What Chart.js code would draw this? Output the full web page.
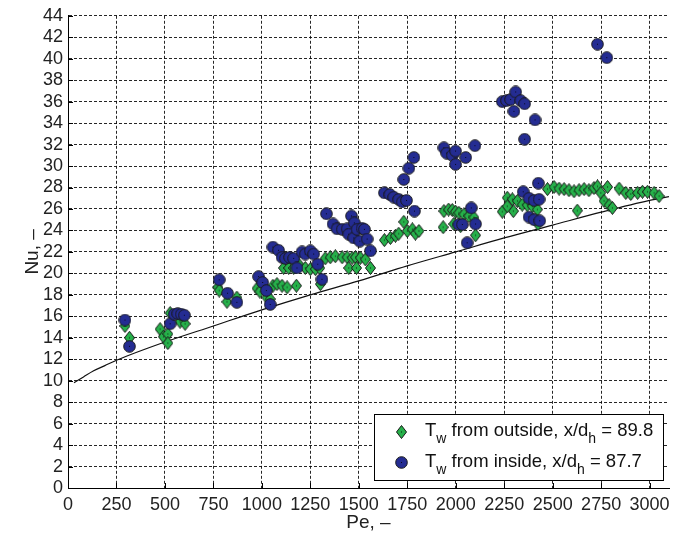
<!DOCTYPE html>
<html>
<head>
<meta charset="utf-8">
<title>Nu vs Pe</title>
<script src="https://cdn.jsdelivr.net/npm/chart.js@4.4.1/dist/chart.umd.min.js"></script>
<style>
  html, body { margin: 0; padding: 0; background: #fff; }
  canvas { display: block; }
</style>
</head>
<body>
<canvas id="nu-chart" width="686" height="534"></canvas>
<script>
// Tw from outside, x/dh = 89.8
const outsidePe = [294, 317, 475, 492, 515, 515, 527, 578, 604, 773, 780, 820, 871, 975, 990, 1026, 1043,
  1057, 1078, 1104, 1130, 1178, 1112, 1138, 1164, 1190, 1224, 1250, 1276, 1298, 1302,
  1327, 1353, 1379, 1414, 1440, 1466, 1483, 1508, 1534, 1448, 1488, 1560,
  1632, 1663, 1689, 1706, 1732, 1750, 1776, 1792, 1810,
  1935, 1939, 1963, 1982, 1999, 2016, 2042, 2068, 2094, 1990, 2025, 2102,
  2240, 2266, 2292, 2318, 2343, 2369, 2395, 2421, 2297, 2266, 2424,
  2473, 2507, 2533, 2559, 2584, 2610, 2636, 2662, 2687, 2713, 2731, 2748, 2783,
  2843, 2877, 2903, 2938, 2963, 2989, 3023, 3049, 2627, 2765, 2791, 2808];
const outsideNu = [15.1, 14.0, 14.8, 14.1, 14.35, 13.5, 16.3, 15.5, 15.3, 18.7, 18.4, 17.35, 17.75, 18.6, 18.3, 17.75, 17.6,
  18.85, 19.0, 18.85, 18.7, 18.85, 20.5, 20.5, 20.5, 20.85, 20.5, 20.4, 20.4, 20.5, 19.0,
  21.4, 21.5, 21.6, 21.5, 21.5, 21.45, 21.5, 21.45, 21.3, 20.5, 20.5, 20.5,
  23.1, 23.3, 23.5, 23.7, 24.8, 23.95, 24.1, 23.7, 23.95,
  24.3, 25.8, 25.95, 25.9, 25.75, 25.65, 25.5, 25.35, 25.2, 24.6, 24.4, 23.55,
  25.75, 27.05, 26.9, 26.75, 26.4, 26.35, 26.25, 25.95, 25.8, 26.25, 24.6,
  27.85, 28.05, 27.9, 27.85, 27.75, 27.65, 27.75, 27.85, 27.75, 27.95, 28.1, 27.5, 28.05,
  27.9, 27.5, 27.4, 27.5, 27.6, 27.6, 27.5, 27.2, 25.85, 26.75, 26.35, 26.1];

// Tw from inside, x/dh = 87.7
const insidePe = [294, 317, 527, 548, 566, 584, 600, 780, 823, 871, 983, 1004, 1023, 1043,
  1057, 1086, 1104, 1121, 1143, 1164, 1181, 1207, 1224, 1250, 1267, 1288, 1310,
  1333, 1367, 1388, 1414, 1440, 1448, 1462, 1474, 1477, 1491, 1505, 1517, 1529, 1543, 1560,
  1632, 1660, 1680, 1706, 1724, 1746, 1732, 1758, 1784, 1787,
  1939, 1953, 1982, 1999, 1999, 2051, 2099, 2016, 2034, 2059, 2080, 2102,
  2240, 2262, 2283, 2309, 2335, 2355, 2300, 2409, 2355,
  2348, 2378, 2404, 2430, 2426, 2378, 2404, 2433, 2731, 2779];
const insideNu = [15.65, 13.2, 15.3, 16.2, 16.25, 16.2, 16.1, 19.4, 18.15, 17.3, 19.7, 19.15, 18.4, 17.1,
  22.45, 22.15, 21.5, 21.4, 21.5, 21.4, 20.5, 22.0, 21.8, 22.1, 21.8, 20.85, 19.45,
  25.55, 24.6, 24.15, 24.1, 24.15, 23.65, 25.35, 23.3, 24.7, 24.1, 23.0, 24.2, 24.1, 23.2, 22.1,
  27.5, 27.35, 27.1, 26.9, 26.65, 26.8, 28.75, 29.8, 30.8, 25.8,
  31.7, 31.2, 31.0, 31.4, 30.15, 30.8, 31.9, 24.55, 24.55, 22.85, 26.1, 24.6,
  36.0, 36.1, 36.2, 36.9, 36.1, 35.8, 35.1, 34.3, 32.5,
  27.6, 27.0, 26.8, 26.9, 28.4, 25.25, 25.0, 24.9, 41.35, 40.1];

// correlation curve
const fitPe = [31, 80, 130, 190, 250, 500, 750, 1000, 1250, 1500, 1750, 2000, 2250, 2500, 2750, 3000, 3100];
const fitNu = [9.8, 10.35, 10.9, 11.4, 11.9, 13.6, 15.1, 16.6, 18.0, 19.3, 20.7, 22.0, 23.3, 24.5, 25.7, 26.8, 27.15];

const FONT = '"Liberation Sans", Arial, Helvetica, sans-serif';
const GREEN = 'rgb(38,176,74)';
const BLUE = 'rgb(36,44,146)';

const toPoints = (xs, ys) => xs.map((x, i) => ({ x: x, y: ys[i] }));

// small canvases used as point styles
function makeMarker(w, h, fill, shape) {
    const c = document.createElement('canvas');
    c.width = w;
    c.height = h;
    const g = c.getContext('2d');
    g.beginPath();
    shape(g, w, h);
    g.fillStyle = fill;
    g.fill();
    g.strokeStyle = 'rgb(25,25,25)';
    g.lineWidth = 1;
    g.stroke();
    // centre dot
    g.fillStyle = 'rgba(0,0,0,0.8)';
    g.fillRect(w / 2 - 0.5, h / 2 - 0.5, 1, 1);
    return c;
}

const diamondImg = makeMarker(11, 14, GREEN, (g, w, h) => {
    g.moveTo(w / 2, 0.5);
    g.lineTo(w - 0.5, h / 2);
    g.lineTo(w / 2, h - 0.5);
    g.lineTo(0.5, h / 2);
    g.closePath();
});
const circleImg = makeMarker(13, 13, BLUE, (g, w, h) => {
    g.arc(w / 2, h / 2, w / 2 - 0.7, 0, Math.PI * 2);
});

// short inward ticks on both axes
const innerTicks = {
    id: 'innerTicks',
    beforeDatasetsDraw(chart) {
        const { ctx, chartArea, scales } = chart;
        ctx.save();
        ctx.strokeStyle = '#000';
        ctx.lineWidth = 1;
        ctx.beginPath();
        scales.x.ticks.forEach(t => {
            const px = Math.round(scales.x.getPixelForValue(t.value)) + 0.5;
            ctx.moveTo(px, chartArea.bottom);
            ctx.lineTo(px, chartArea.bottom - 5);
        });
        scales.y.ticks.forEach(t => {
            const py = Math.round(scales.y.getPixelForValue(t.value)) + 0.5;
            ctx.moveTo(chartArea.left, py);
            ctx.lineTo(chartArea.left + 5, py);
        });
        ctx.stroke();
        ctx.restore();
    }
};

// legend box with subscripts, bottom right of the plot
const legendBox = {
    id: 'legendBox',
    afterDraw(chart) {
        const { ctx, chartArea } = chart;
        const w = 289, h = 66;
        const x = Math.round(chartArea.right - 6 - w);
        const y = Math.round(chartArea.bottom - 8 - h);
        ctx.save();
        ctx.fillStyle = '#fff';
        ctx.fillRect(x, y, w, h);
        ctx.strokeStyle = '#000';
        ctx.lineWidth = 1;
        ctx.strokeRect(x + 0.5, y + 0.5, w, h);

        const rows = [
            { img: diamondImg, parts: [['T', 0], ['w', 1], [' from outside, x/d', 0], ['h', 1], [' = 89.8', 0]] },
            { img: circleImg, parts: [['T', 0], ['w', 1], [' from inside, x/d', 0], ['h', 1], [' = 87.7', 0]] }
        ];
        ctx.fillStyle = '#111';
        ctx.textBaseline = 'alphabetic';
        ctx.textAlign = 'left';
        rows.forEach((row, i) => {
            const cy = y + 17.7 + i * 31;
            ctx.drawImage(row.img, Math.round(x + 27.7 - row.img.width / 2), Math.round(cy - row.img.height / 2));
            let tx = x + 51;
            row.parts.forEach(([text, sub]) => {
                ctx.font = (sub ? '14px ' : '18.5px ') + FONT;
                ctx.fillText(text, tx, sub ? cy + 11 : cy + 3.8);
                tx += ctx.measureText(text).width;
            });
        });
        ctx.restore();
    }
};

const axisStyle = {
    grid: { color: 'rgba(0,0,0,0.85)', lineWidth: 1, drawTicks: false },
    border: { color: '#000', width: 1, dash: [3, 2] }
};
const plainTick = value => String(value);

const ctx = document.getElementById('nu-chart').getContext('2d');
const chart = new Chart(ctx, {
    type: 'scatter',
    data: {
        datasets: [
            {
                label: 'Tw from inside, x/dh = 87.7',
                data: toPoints(insidePe, insideNu),
                pointStyle: circleImg,
                order: 1
            },
            {
                label: 'Tw from outside, x/dh = 89.8',
                data: toPoints(outsidePe, outsideNu),
                pointStyle: diamondImg,
                order: 2
            },
            {
                label: 'correlation',
                data: toPoints(fitPe, fitNu),
                showLine: true,
                pointRadius: 0,
                borderColor: '#111',
                borderWidth: 1.2,
                cubicInterpolationMode: 'monotone',
                order: 3
            }
        ]
    },
    options: {
        responsive: false,
        animation: false,
        devicePixelRatio: 1,
        layout: { padding: { top: 14, right: 17, left: 0, bottom: 0 } },
        plugins: {
            legend: { display: false },
            tooltip: { enabled: false }
        },
        scales: {
            x: {
                type: 'linear',
                position: 'bottom',
                min: 0,
                max: 3100,
                ticks: {
                    stepSize: 250,
                    includeBounds: false,
                    autoSkip: false,
                    maxRotation: 0,
                    padding: 6,
                    color: '#222',
                    font: { family: FONT, size: 18 },
                    callback: plainTick
                },
                title: {
                    display: true,
                    text: 'Pe, –',
                    color: '#222',
                    font: { family: FONT, size: 19 },
                    padding: 0
                },
                afterFit(scale) { scale.height = 46; },
                ...axisStyle
            },
            y: {
                type: 'linear',
                min: 0,
                max: 44,
                ticks: {
                    stepSize: 2,
                    includeBounds: false,
                    autoSkip: false,
                    padding: 5,
                    color: '#222',
                    font: { family: FONT, size: 18 },
                    callback: plainTick
                },
                title: {
                    display: true,
                    text: 'Nu, –',
                    color: '#222',
                    font: { family: FONT, size: 19 },
                    padding: { top: 21, bottom: 0 }
                },
                afterFit(scale) { scale.width = 68; },
                ...axisStyle
            }
        }
    },
    plugins: [innerTicks, legendBox]
});
</script>
</body>
</html>
